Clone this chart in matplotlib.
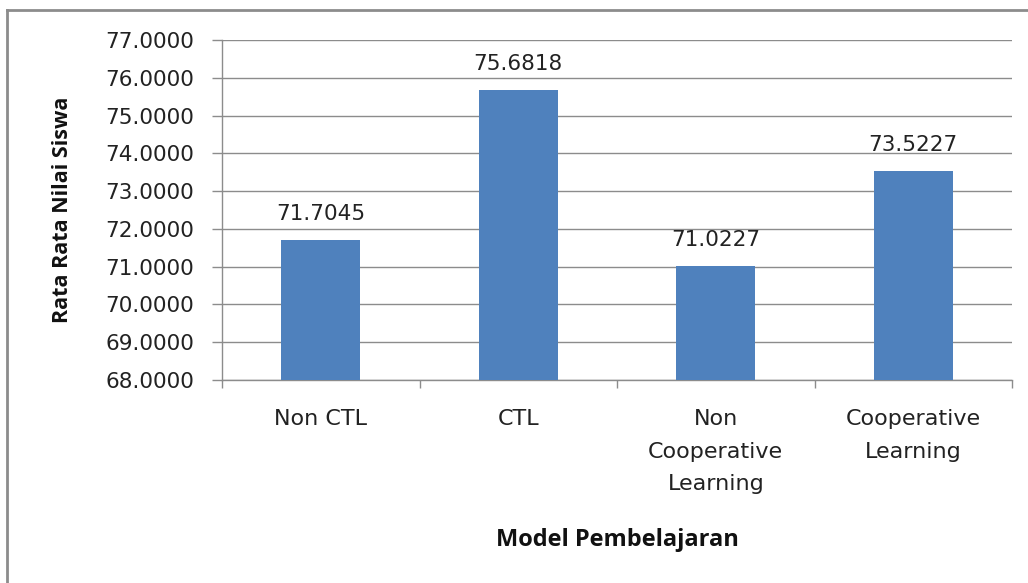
import matplotlib.pyplot as plt
from matplotlib.lines import Line2D

# ====== data ======
categories = ["Non CTL", "CTL", "Non\nCooperative\nLearning", "Cooperative\nLearning"]
values = [71.7045, 75.6818, 71.0227, 73.5227]
yticks = [68, 69, 70, 71, 72, 73, 74, 75, 76, 77]

plt.rcParams["font.family"] = ["DejaVu Sans"]

fig = plt.figure(figsize=(10.28, 5.83), dpi=100)
ax = fig.add_axes([222 / 1028, 1 - 380 / 583, 790 / 1028, 340 / 583])

x = list(range(len(categories)))
bars = ax.bar(x, values, width=0.4, color="#4F81BD", zorder=3)

ax.set_xlim(-0.5, len(categories) - 0.5)
ax.set_ylim(68, 77)
ax.set_yticks(yticks)
ax.set_yticklabels([f"{v:.4f}" for v in yticks], fontsize=15.5, color="#222222")
ax.grid(axis="y", color="#8c8c8c", linewidth=1.0, zorder=0)
ax.set_axisbelow(True)

# category ticks sit between the bars
ax.set_xticks([i - 0.5 for i in range(len(categories) + 1)])
ax.set_xticklabels([])
ax.tick_params(axis="x", length=5.8, color="#8c8c8c", width=1)
ax.tick_params(axis="y", length=7.2, color="#8c8c8c", width=1, pad=13)
for i, c in enumerate(categories):
    ax.text(i, -0.085, c, transform=ax.get_xaxis_transform(), ha="center", va="top",
            fontsize=16, color="#222222", linespacing=1.8)

for s in ["top", "right"]:
    ax.spines[s].set_visible(False)
for s in ["left", "bottom"]:
    ax.spines[s].set_color("#8c8c8c")
    ax.spines[s].set_linewidth(1)

# value labels
for b, v in zip(bars, values):
    ax.annotate(f"{v:.4f}", (b.get_x() + b.get_width() / 2, v), xytext=(0, 16),
                textcoords="offset pixels", ha="center", va="bottom", fontsize=15.5, color="#222222")

fig.text(62 / 1028, 1 - 210 / 583, "Rata Rata Nilai Siswa", rotation=90, ha="center", va="center",
         family="Open Sans", fontsize=15.5, fontweight="bold", color="#111111")
fig.text(617 / 1028, 1 - 540 / 583, "Model Pembelajaran", ha="center", va="center",
         family="Open Sans", fontsize=17, fontweight="bold", color="#111111")

# outer chart border (left and top edges visible)
fig.add_artist(Line2D([7 / 1028, 7 / 1028], [0, 1 - 10 / 583], color="#8c8c8c", linewidth=2))
fig.add_artist(Line2D([7 / 1028, 1], [1 - 10 / 583, 1 - 10 / 583], color="#8c8c8c", linewidth=2))

fig.savefig("out.png", dpi=100)
